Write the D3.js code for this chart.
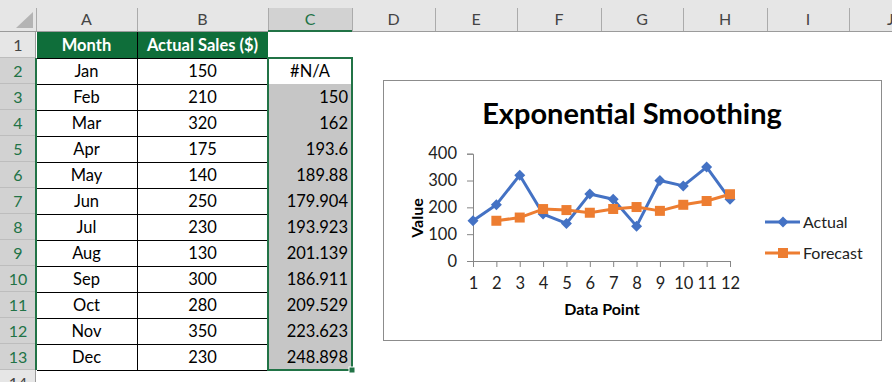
<!DOCTYPE html>
<html>
<head>
<meta charset="utf-8">
<script src="https://cdn.jsdelivr.net/npm/d3@7"></script>
<style>
  html, body { margin: 0; padding: 0; background: #fff; }
  svg { display: block; font-family: Lato, "Open Sans", sans-serif; }
</style>
</head>
<body>
<svg width="892" height="382"></svg>
<script>
// sheet data
const months = ['Jan', 'Feb', 'Mar', 'Apr', 'May', 'Jun', 'Jul', 'Aug', 'Sep', 'Oct', 'Nov', 'Dec']
const actualSales = [150, 210, 320, 175, 140, 250, 230, 130, 300, 280, 350, 230]
const forecastLabels = ['#N/A', '150', '162', '193.6', '189.88', '179.904', '193.923', '201.139', '186.911', '209.529', '223.623', '248.898']
const forecast = [null, 150, 162, 193.6, 189.88, 179.904, 193.923, 201.139, 186.911, 209.529, 223.623, 248.898]
const colLetters = ['A', 'B', 'C', 'D', 'E', 'F', 'G', 'H', 'I', 'J']
const dataPoints = [1, 2, 3, 4, 5, 6, 7, 8, 9, 10, 11, 12]
const yTicks = [0, 100, 200, 300, 400]

const green = '#217346'
const headGreen = '#0f6e3a'
const blue = '#4472C4'
const orange = '#ED7D31'
const cellFont = 16.5

const svg = d3.select('svg')

// grid geometry
const colEdges = [36, 137, 268, 352, 435, 517, 601, 683, 767, 849, 932]
const rowTop = r => 32 + 26 * (r - 1)

// ---- column headers
svg.append('rect').attr('x', 0).attr('y', 0).attr('width', 892).attr('height', 32).attr('fill', '#e6e6e6')
svg.append('rect').attr('x', colEdges[2]).attr('y', 8).attr('width', colEdges[3] - colEdges[2]).attr('height', 24).attr('fill', '#d2d2d2')
svg.append('path').attr('d', 'M16,28 L33,28 L33,12 Z').attr('fill', '#b4b4b4')

colLetters.forEach((c, i) => {
  svg.append('line')
    .attr('x1', colEdges[i] + 0.5).attr('x2', colEdges[i] + 0.5)
    .attr('y1', 8).attr('y2', 32)
    .attr('stroke', '#ababab')
  svg.append('text')
    .attr('x', (colEdges[i] + colEdges[i + 1]) / 2).attr('y', 25)
    .attr('text-anchor', 'middle')
    .attr('font-size', 16)
    .attr('fill', c === 'C' ? green : '#444')
    .text(c)
})
svg.append('line').attr('x1', 0).attr('x2', 892).attr('y1', 31.5).attr('y2', 31.5).attr('stroke', '#9b9b9b')
svg.append('line').attr('x1', colEdges[2]).attr('x2', colEdges[3]).attr('y1', 31).attr('y2', 31).attr('stroke', green).attr('stroke-width', 2)

// ---- row headers
for (let r = 1; r <= 14; r++) {
  const sel = r >= 2 && r <= 13
  svg.append('rect')
    .attr('x', 0).attr('y', rowTop(r)).attr('width', 36).attr('height', 26)
    .attr('fill', sel ? '#d2d2d2' : '#e6e6e6')
  svg.append('line')
    .attr('x1', 0).attr('x2', 36).attr('y1', rowTop(r + 1) - 0.5).attr('y2', rowTop(r + 1) - 0.5)
    .attr('stroke', '#bdbdbd')
  svg.append('text')
    .attr('x', 18).attr('y', rowTop(r) + 19)
    .attr('text-anchor', 'middle')
    .attr('font-size', 16)
    .attr('fill', sel ? green : '#444')
    .text(r)
}
svg.append('line').attr('x1', 35.5).attr('x2', 35.5).attr('y1', 32).attr('y2', 382).attr('stroke', '#9b9b9b')
svg.append('line').attr('x1', 36).attr('x2', 36).attr('y1', rowTop(2)).attr('y2', rowTop(14)).attr('stroke', green).attr('stroke-width', 2)

// ---- table
svg.append('rect').attr('x', 37).attr('y', rowTop(1)).attr('width', colEdges[2] - 37).attr('height', 26).attr('fill', headGreen)
svg.append('rect').attr('x', colEdges[2] + 1).attr('y', rowTop(3)).attr('width', colEdges[3] - colEdges[2] - 2).attr('height', rowTop(14) - rowTop(3)).attr('fill', '#c6c6c6')

const headers = ['Month', 'Actual Sales ($)']
headers.forEach((h, i) => {
  svg.append('text')
    .attr('x', (colEdges[i] + colEdges[i + 1]) / 2).attr('y', rowTop(1) + 19)
    .attr('text-anchor', 'middle').attr('font-size', cellFont).attr('font-weight', 'bold')
    .attr('fill', '#fff').text(h)
})

const rows = svg.append('g')
months.forEach((m, i) => {
  const y = rowTop(i + 2) + 19
  rows.append('text').attr('x', (colEdges[0] + colEdges[1]) / 2).attr('y', y)
    .attr('text-anchor', 'middle').attr('font-size', cellFont).attr('fill', '#000').text(m)
  rows.append('text').attr('x', (colEdges[1] + colEdges[2]) / 2).attr('y', y)
    .attr('text-anchor', 'middle').attr('font-size', cellFont).attr('fill', '#000').text(actualSales[i])
  const na = forecast[i] === null
  rows.append('text').attr('x', na ? (colEdges[2] + colEdges[3]) / 2 : colEdges[3] - 4).attr('y', y)
    .attr('text-anchor', na ? 'middle' : 'end').attr('font-size', cellFont).attr('fill', '#000').text(forecastLabels[i])
})

// black borders
for (let r = 2; r <= 14; r++) {
  svg.append('line').attr('x1', 37).attr('x2', colEdges[2]).attr('y1', rowTop(r) + 0.5).attr('y2', rowTop(r) + 0.5).attr('stroke', '#000')
}
svg.append('line').attr('x1', colEdges[1] + 0.5).attr('x2', colEdges[1] + 0.5).attr('y1', rowTop(1)).attr('y2', rowTop(14)).attr('stroke', '#000')

// selection box C2:C13
svg.append('rect')
  .attr('x', colEdges[2]).attr('y', rowTop(2)).attr('width', colEdges[3] - colEdges[2]).attr('height', rowTop(14) - rowTop(2))
  .attr('fill', 'none').attr('stroke', green).attr('stroke-width', 2)
svg.append('rect').attr('x', colEdges[3] - 3).attr('y', rowTop(14) - 3).attr('width', 6).attr('height', 6)
  .attr('fill', green).attr('stroke', '#fff').attr('stroke-width', 1)

// ---- chart
const chart = svg.append('g')
chart.append('rect').attr('x', 383.5).attr('y', 80.5).attr('width', 498).attr('height', 260)
  .attr('fill', '#fff').attr('stroke', '#8c8c8c')

chart.append('text').attr('x', 632).attr('y', 124)
  .attr('text-anchor', 'middle').attr('font-size', 29).attr('font-weight', 'bold').attr('fill', '#000')
  .text('Exponential Smoothing')

const x = d3.scalePoint().domain(dataPoints).range([473, 730])
const y = d3.scaleLinear().domain([0, 400]).range([261, 153.7])

const yAxis = chart.append('g').attr('transform', 'translate(473,0)')
  .call(d3.axisLeft(y).tickValues(yTicks).tickSize(6).tickPadding(10))
const xAxis = chart.append('g').attr('transform', 'translate(0,261)')
  .call(d3.axisBottom(x).tickSize(6).tickPadding(10))
;[yAxis, xAxis].forEach(a => {
  a.selectAll('path, line').attr('stroke', '#868686')
  a.selectAll('text').attr('font-size', 16.5).attr('fill', '#222').attr('font-family', 'Lato, sans-serif')
})
xAxis.select('.domain').attr('d', 'M473,0.5H730.5')

chart.append('text').attr('x', 602).attr('y', 315)
  .attr('text-anchor', 'middle').attr('font-size', 16).attr('font-weight', 'bold').text('Data Point')
chart.append('text').attr('transform', 'translate(423,218) rotate(-90)')
  .attr('text-anchor', 'middle').attr('font-size', 16).attr('font-weight', 'bold').text('Value')

const line = d3.line().defined(d => d[1] !== null).x(d => x(d[0])).y(d => y(d[1]))
const actualPts = dataPoints.map((p, i) => [p, actualSales[i]])
const forecastPts = dataPoints.map((p, i) => [p, forecast[i]])

chart.append('path').datum(actualPts).attr('d', line).attr('fill', 'none').attr('stroke', blue).attr('stroke-width', 3).attr('stroke-linejoin', 'round')
chart.append('path').datum(forecastPts).attr('d', line).attr('fill', 'none').attr('stroke', orange).attr('stroke-width', 3).attr('stroke-linejoin', 'round')

const diamond = 'M0,-5.5L5.5,0L0,5.5L-5.5,0Z'
chart.append('g').selectAll('path').data(actualPts).join('path')
  .attr('transform', d => `translate(${x(d[0])},${y(d[1])})`)
  .attr('d', diamond).attr('fill', blue)
chart.append('g').selectAll('rect').data(forecastPts.filter(d => d[1] !== null)).join('rect')
  .attr('x', d => x(d[0]) - 5).attr('y', d => y(d[1]) - 5).attr('width', 10).attr('height', 10)
  .attr('fill', orange)

// legend
const legend = [['Actual', blue, 222], ['Forecast', orange, 253]]
legend.forEach(([name, col, ly], i) => {
  const g = chart.append('g')
  g.append('line').attr('x1', 765).attr('x2', 800).attr('y1', ly).attr('y2', ly).attr('stroke', col).attr('stroke-width', 3)
  if (i === 0) g.append('path').attr('transform', `translate(783,${ly})`).attr('d', diamond).attr('fill', col)
  else g.append('rect').attr('x', 778).attr('y', ly - 5).attr('width', 10).attr('height', 10).attr('fill', col)
  g.append('text').attr('x', 803).attr('y', ly + 5.5).attr('font-size', 16).attr('fill', '#222').text(name)
})
</script>
</body>
</html>
